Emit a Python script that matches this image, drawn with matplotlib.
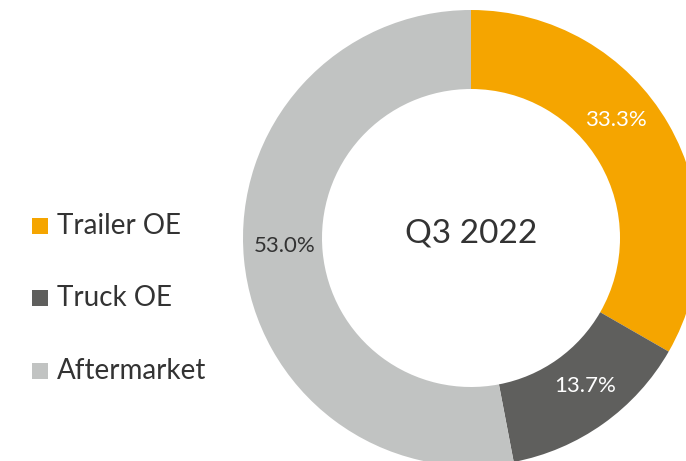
import numpy as np
import matplotlib.pyplot as plt
from matplotlib.patches import Rectangle

categories = ['Trailer OE', 'Truck OE', 'Aftermarket']
shares = [33.3, 13.7, 53.0]
colors = ['#F5A500', '#5F5F5D', '#C1C3C2']
label_colors = ['white', 'white', '#333333']
label_nudge = [9, 2, -3]  # degrees, counter-clockwise from wedge middle
title = 'Q3 2022'

plt.rcParams['font.family'] = ['Lato', 'DejaVu Sans']

W, H = 686, 461
fig = plt.figure(figsize=(W / 100, H / 100), dpi=100)

# donut axes, in pixels: centre (471, 238), outer radius 228
cx, cy, r = 471, 238, 228
ax = fig.add_axes([(cx - r) / W, (H - cy - r) / H, 2 * r / W, 2 * r / H])

wedges, texts, autotexts = ax.pie(
    shares, colors=colors, startangle=90, counterclock=False, radius=1,
    wedgeprops=dict(width=79 / 228, edgecolor='none'),
    autopct='%1.1f%%', pctdistance=0.82, textprops=dict(fontsize=16))
for w, t, c, n in zip(wedges, autotexts, label_colors, label_nudge):
    t.set_color(c)
    ang = np.deg2rad((w.theta1 + w.theta2) / 2 + n)
    t.set_position((0.82 * np.cos(ang), 0.82 * np.sin(ang)))

# pie() resets the limits, so set them afterwards
ax.set_xlim(-1, 1)
ax.set_ylim(-1, 1)
ax.set_aspect('equal')
ax.axis('off')

ax.text(0, 0.02, title, ha='center', va='center', fontsize=24, color='#333333')

# legend on the left
ys = [226, 298, 371]
for name, col, y in zip(categories, colors, ys):
    fig.patches.append(Rectangle((32 / W, (H - y - 8) / H), 16 / W, 16 / H,
                                 transform=fig.transFigure, facecolor=col,
                                 edgecolor='none'))
    fig.text(57 / W, (H - y) / H, name, ha='left', va='center',
             fontsize=20, color='#333333')

fig.savefig('out.png', dpi=100)
